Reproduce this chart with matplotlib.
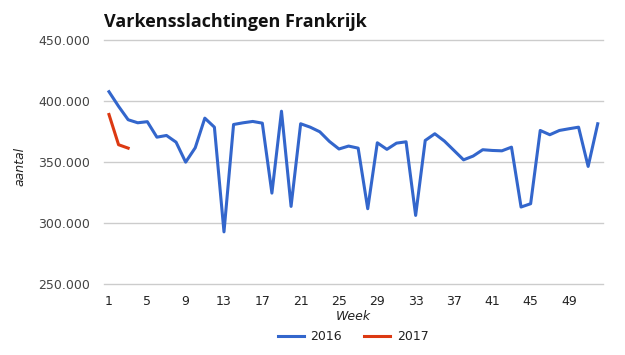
import matplotlib
matplotlib.use("Agg")
from matplotlib import pyplot as plt
from matplotlib.ticker import FuncFormatter

# Weekly pig slaughter counts, France
weeks2016 = list(range(1, 53))
slaughter2016 = [
    408000, 396000, 385000, 382500, 383400, 370700, 372100, 366600, 350200, 362000,
    386300, 378900, 293000, 381100, 382500, 383600, 382200, 324800, 392000, 313900,
    381700, 378900, 375100, 367200, 361000, 363400, 361700, 312000, 366100, 360700,
    365800, 366900, 306500, 368000, 373500, 367500, 359800, 352100, 355200, 360400,
    359800, 359500, 362500, 313400, 316100, 376200, 372700, 376200, 377600, 378900,
    346700, 381700
]
weeks2017 = [1, 2, 3]
slaughter2017 = [389300, 364500, 361700]

xticks = list(range(1, 50, 4))
yticks = [250000, 300000, 350000, 400000, 450000]

blue = "#3366CC"
red = "#DC3912"
grey = "#444444"

fig = plt.figure(figsize=(6.25, 3.55), dpi=100)
ax = fig.add_axes([104 / 625, 1 - 284.3 / 355, (603 - 104) / 625, (284.3 - 40.5) / 355])

ax.plot(weeks2016, slaughter2016, color=blue, lw=2.2, label="2016", solid_joinstyle="round")
ax.plot(weeks2017, slaughter2017, color=red, lw=2.2, label="2017", solid_joinstyle="round")

ax.set_xlim(0.48, 52.55)
ax.set_ylim(250000, 450000)
ax.set_xticks(xticks)
ax.set_yticks(yticks)
ax.yaxis.set_major_formatter(FuncFormatter(lambda v, p: f"{int(v):,}".replace(",", ".")))
ax.tick_params(axis="both", length=0, labelsize=9, colors=grey)
ax.tick_params(axis="y", pad=10)
ax.tick_params(axis="x", pad=8, labelcolor="#222222")
ax.grid(axis="y", color="#cccccc", lw=1)
for gl in ax.get_ygridlines():
    gl.set_clip_on(False)
ax.set_axisbelow(True)
for s in ax.spines.values():
    s.set_visible(False)

fig.text(104 / 625, 1 - 27 / 355, "Varkensslachtingen Frankrijk", fontsize=13,
         fontweight="bold", family="Open Sans", ha="left", va="baseline", color="#111111")
fig.text(353 / 625, 1 - 317 / 355, "Week", fontsize=9, style="italic", ha="center",
         va="center", color="#222222")
fig.text(20 / 625, 1 - 166 / 355, "aantal", fontsize=9, style="italic", rotation=90,
         ha="center", va="center", color="#222222")

leg = fig.legend(loc="center", bbox_to_anchor=(353 / 625, 1 - 337 / 355), ncol=2,
                 frameon=False, fontsize=9, handlelength=2.1, columnspacing=1.8,
                 handletextpad=0.5)
for t in leg.get_texts():
    t.set_color("#222222")

fig.savefig("out.png", dpi=100)
